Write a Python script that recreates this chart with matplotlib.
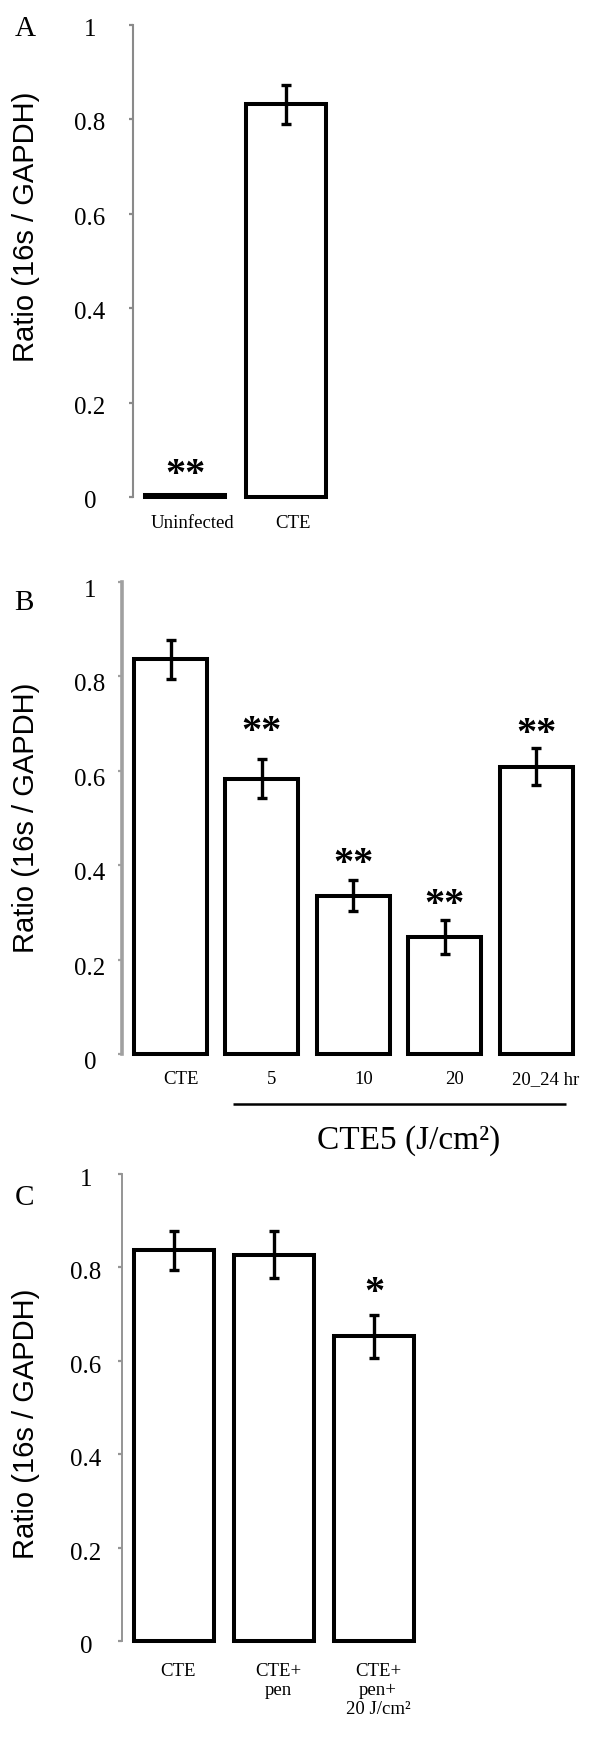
import matplotlib
matplotlib.use("Agg")
import matplotlib.pyplot as plt
import matplotlib.transforms as mtransforms

# ---------------- data ----------------
a_categories = ["Uninfected", "CTE"]
a_values = [0.004, 0.832]
a_errors = [0.0, 0.041]
a_marks = ["**", ""]
a_mark_y = [0.068, None]

b_categories = ["CTE", "5", "10", "20", "20_24 hr"]
b_values = [0.836, 0.583, 0.335, 0.248, 0.609]
b_errors = [0.041, 0.041, 0.033, 0.036, 0.039]
b_marks = ["", "**", "**", "**", "**"]
b_mark_y = [None, 0.704, 0.424, 0.337, 0.700]
b_group_label = "CTE5 (J/cm²)"

c_categories = ["CTE", "CTE+\npen", "CTE+\npen+\n20 J/cm²"]
c_values = [0.837, 0.827, 0.653]
c_errors = [0.042, 0.050, 0.046]
c_marks = ["", "", "*"]
c_mark_y = [None, None, 0.767]

y_ticks = [0, 0.2, 0.4, 0.6, 0.8, 1.0]
y_tick_labels = ["0", "0.2", "0.4", "0.6", "0.8", "1"]
y_label = "Ratio (16s / GAPDH)"
panel_letters = ["A", "B", "C"]

# ---------------- layout ----------------
W, H = 600, 1738
SERIF = "Liberation Serif"
SANS = "Liberation Sans"
plt.rcParams["font.family"] = [SERIF, "DejaVu Serif"]

fig = plt.figure(figsize=(W / 100, H / 100), dpi=100)


def make_panel(cats, vals, errs, marks, mark_y, left, top, bottom, center0,
               spacing, spine_color, spine_w, tick_center_px, tick_dy,
               xlab_pad, xlab_dx, ylab_center, letter, letter_xy):
    right = 590
    ax = fig.add_axes([left / W, 1 - bottom / H, (right - left) / W, (bottom - top) / H])
    xmin = -(center0 - left) / spacing
    xmax = xmin + (right - left) / spacing
    ax.set_xlim(xmin, xmax)
    ax.set_ylim(0, 1)
    pos = list(range(len(cats)))

    ax.bar(pos, vals, width=0.80, facecolor="white", edgecolor="black",
           linewidth=2.9, clip_on=False, zorder=3)
    for p, v, e in zip(pos, vals, errs):
        if e > 0:
            ax.errorbar(p, v, yerr=e, fmt="none", ecolor="black", elinewidth=2.4,
                        capsize=3.3, capthick=2.4, zorder=4, clip_on=False)
    fs_star = 29
    for p, m, my in zip(pos, marks, mark_y):
        if m:
            off = mtransforms.ScaledTranslation(0, -0.5 * fs_star / 72, fig.dpi_scale_trans)
            ax.text(p, my, m, ha="center", va="baseline", fontsize=fs_star,
                    family=SERIF, fontweight="bold",
                    transform=ax.transData + off, zorder=5)

    for s in ["top", "right", "bottom"]:
        ax.spines[s].set_visible(False)
    ax.spines["left"].set_color(spine_color)
    ax.spines["left"].set_linewidth(spine_w)

    ax.set_yticks(y_ticks)
    ax.set_yticklabels(y_tick_labels, fontfamily=SERIF, fontsize=18)
    tick_len_pt = 3.0
    pad_px = (left - tick_center_px) - tick_len_pt * 100 / 72
    ax.tick_params(axis="y", direction="out", length=tick_len_pt, width=1.6,
                   color=spine_color, pad=pad_px * 72 / 100)
    for lab in ax.get_yticklabels():
        lab.set_horizontalalignment("center")
        lab.set_verticalalignment("center")
        lab.set_transform(lab.get_transform() +
                          mtransforms.ScaledTranslation(0, -tick_dy / 100, fig.dpi_scale_trans))

    ax.set_xticks(pos)
    ax.set_xticklabels(cats, fontfamily=SERIF, fontsize=13.5)
    ax.tick_params(axis="x", length=0, pad=xlab_pad)
    for lab in ax.get_xticklabels():
        lab.set_verticalalignment("top")
        lab.set_linespacing(1.15)
        lab.set_transform(lab.get_transform() +
                          mtransforms.ScaledTranslation(xlab_dx / 100, 0, fig.dpi_scale_trans))

    ax.set_ylabel(y_label, fontsize=21, family=SANS, va="center", ha="center")
    ax.yaxis.set_label_coords(26 / W, 1 - ylab_center / H, transform=fig.transFigure)

    fig.text(letter_xy[0] / W, 1 - letter_xy[1] / H, letter, fontsize=21,
             family=SERIF, ha="center", va="center")
    return ax, pos


axA, posA = make_panel(a_categories, a_values, a_errors, a_marks, a_mark_y,
                       left=133, top=25, bottom=497, center0=185, spacing=101,
                       spine_color="#8a8a8a", spine_w=1.5, tick_center_px=90,
                       tick_dy=5, xlab_pad=13, xlab_dx=7, ylab_center=227,
                       letter=panel_letters[0], letter_xy=(25, 29))

axB, posB = make_panel(b_categories, b_values, b_errors, b_marks, b_mark_y,
                       left=122, top=582, bottom=1054, center0=170.5, spacing=91.4,
                       spine_color="#a0a0a0", spine_w=2.6, tick_center_px=90,
                       tick_dy=9, xlab_pad=12, xlab_dx=10, ylab_center=818,
                       letter=panel_letters[1], letter_xy=(24, 603))

axC, posC = make_panel(c_categories, c_values, c_errors, c_marks, c_mark_y,
                       left=122, top=1174, bottom=1641, center0=174, spacing=100,
                       spine_color="#959595", spine_w=1.4, tick_center_px=86,
                       tick_dy=6, xlab_pad=16, xlab_dx=4, ylab_center=1424,
                       letter=panel_letters[2], letter_xy=(24, 1198))

# group underline and label for panel B
trB = mtransforms.blended_transform_factory(axB.transData, axB.transAxes)
x0 = posB[1] - 0.32
x1 = posB[-1] + 0.33
axB.plot([x0, x1], [-0.106, -0.106], color="black", lw=1.8, transform=trB,
         clip_on=False, solid_capstyle="butt")
axB.text((x0 + x1) / 2 + 0.1, -0.184, b_group_label, transform=trB, ha="center",
         va="center", fontsize=24, family=SERIF)

fig.savefig("out.png", dpi=100, facecolor="white")
